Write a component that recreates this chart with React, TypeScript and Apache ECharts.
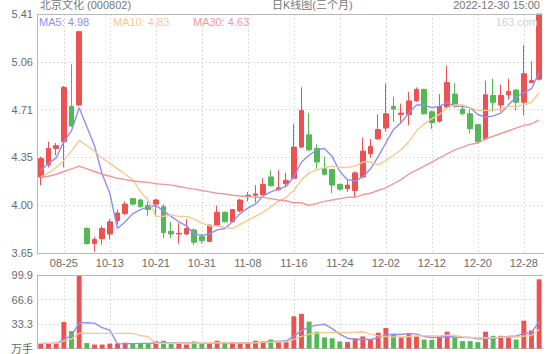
import React, { useEffect, useRef } from "react";
import * as echarts from "echarts";

const dates = [
  "08-22", "08-23", "08-24", "08-25", "08-26", "08-29", "10-10", "10-11", "10-12", "10-13",
  "10-14", "10-17", "10-18", "10-19", "10-20", "10-21", "10-24", "10-25", "10-26", "10-27",
  "10-28", "10-31", "11-01", "11-02", "11-03", "11-04", "11-07", "11-08", "11-09", "11-10",
  "11-11", "11-14", "11-15", "11-16", "11-17", "11-18", "11-21", "11-22", "11-23", "11-24",
  "11-25", "11-28", "11-29", "11-30", "12-01", "12-02", "12-05", "12-06", "12-07", "12-08",
  "12-09", "12-12", "12-13", "12-14", "12-15", "12-16", "12-19", "12-20", "12-21", "12-22",
  "12-23", "12-26", "12-27", "12-28", "12-29", "12-30",
];

const opens = [
  4.21, 4.30, 4.42, 4.47, 4.73, 4.74, 3.83, 3.72, 3.755, 3.79,
  3.89, 3.94, 4.05, 4.04, 4.00, 4.01, 3.99, 3.81, 3.79, 3.79,
  3.82, 3.77, 3.735, 3.855, 3.95, 3.88, 3.96, 4.065, 4.075, 4.08,
  4.21, 4.115, 4.16, 4.20, 4.43, 4.52, 4.42, 4.27, 4.265, 4.155,
  4.125, 4.11, 4.21, 4.38, 4.49, 4.57, 4.73, 4.67, 4.67, 4.77,
  4.855, 4.69, 4.62, 4.725, 4.82, 4.71, 4.675, 4.595, 4.49, 4.81,
  4.74, 4.815, 4.85, 4.76, 4.905, 4.93,
];
const closes = [
  4.345, 4.42, 4.44, 4.87, 4.585, 5.28, 3.72, 3.75, 3.83, 3.88,
  3.945, 4.01, 4.01, 3.99, 3.97, 4.04, 3.80, 3.79, 3.795, 3.83,
  3.73, 3.74, 3.855, 3.95, 3.88, 3.97, 4.04, 4.075, 4.085, 4.155,
  4.145, 4.13, 4.185, 4.43, 4.70, 4.41, 4.32, 4.23, 4.15, 4.12,
  4.15, 4.24, 4.40, 4.435, 4.56, 4.675, 4.71, 4.68, 4.77, 4.855,
  4.675, 4.61, 4.73, 4.905, 4.74, 4.675, 4.565, 4.47, 4.815, 4.76,
  4.81, 4.84, 4.76, 4.97, 4.92, 5.41,
];
const lows = [
  4.15, 4.28, 4.37, 4.28, 4.58, 4.73, 3.71, 3.66, 3.71, 3.75,
  3.86, 3.93, 4.00, 3.985, 3.92, 3.92, 3.76, 3.76, 3.72, 3.78,
  3.71, 3.72, 3.73, 3.85, 3.875, 3.875, 3.95, 4.03, 4.02, 4.075,
  4.14, 4.11, 4.14, 4.195, 4.42, 4.40, 4.27, 4.22, 4.09, 4.11,
  4.10, 4.06, 4.205, 4.35, 4.485, 4.545, 4.615, 4.61, 4.59, 4.765,
  4.67, 4.565, 4.61, 4.71, 4.72, 4.665, 4.53, 4.465, 4.48, 4.69,
  4.69, 4.78, 4.70, 4.665, 4.90, 4.92,
];
const highs = [
  4.36, 4.47, 4.46, 4.88, 5.04, 5.28, 3.84, 3.77, 3.85, 3.90,
  3.97, 4.03, 4.055, 4.05, 4.03, 4.05, 4.01, 3.88, 3.87, 3.90,
  3.83, 3.79, 3.86, 4.00, 3.955, 3.975, 4.05, 4.10, 4.15, 4.20,
  4.26, 4.26, 4.24, 4.60, 4.87, 4.68, 4.45, 4.36, 4.27, 4.16,
  4.19, 4.25, 4.50, 4.49, 4.67, 4.90, 4.80, 4.75, 4.835, 4.87,
  4.86, 4.70, 4.82, 5.03, 4.90, 4.74, 4.71, 4.60, 4.92, 4.935,
  4.89, 4.935, 4.855, 5.18, 5.06, 5.41,
];

const ma5 = [
  4.26, 4.31, 4.35, 4.47, 4.55, 4.72, 4.58, 4.44, 4.23, 4.09,
  3.83, 3.88, 3.94, 3.97, 3.99, 4.00, 3.96, 3.92, 3.88, 3.85,
  3.79, 3.78, 3.79, 3.82, 3.83, 3.88, 3.94, 3.98, 4.01, 4.07,
  4.10, 4.12, 4.14, 4.21, 4.32, 4.37, 4.41, 4.42, 4.36, 4.25,
  4.19, 4.18, 4.21, 4.27, 4.36, 4.46, 4.56, 4.61, 4.68, 4.74,
  4.74, 4.72, 4.73, 4.76, 4.73, 4.73, 4.72, 4.67, 4.65, 4.66,
  4.68, 4.74, 4.80, 4.83, 4.86, 4.98,
];
const ma10 = [
  4.21, 4.24, 4.28, 4.33, 4.40, 4.48, 4.44, 4.40, 4.35, 4.31,
  4.27, 4.23, 4.19, 4.10, 4.04, 3.92, 3.92, 3.93, 3.92, 3.92,
  3.90, 3.87, 3.85, 3.85, 3.84, 3.83, 3.86, 3.89, 3.92, 3.95,
  3.99, 4.03, 4.06, 4.11, 4.19, 4.24, 4.26, 4.28, 4.29, 4.28,
  4.28, 4.29, 4.32, 4.32, 4.30, 4.33, 4.37, 4.41, 4.47, 4.55,
  4.60, 4.64, 4.67, 4.72, 4.74, 4.74, 4.72, 4.70, 4.70, 4.70,
  4.71, 4.73, 4.73, 4.74, 4.76, 4.83,
];
const ma30 = [
  4.21, 4.215, 4.23, 4.25, 4.27, 4.29, 4.27, 4.25, 4.23, 4.215,
  4.20, 4.19, 4.18, 4.175, 4.17, 4.16, 4.155, 4.15, 4.14, 4.13,
  4.12, 4.11, 4.10, 4.09, 4.085, 4.075, 4.07, 4.065, 4.06, 4.06,
  4.05, 4.04, 4.035, 4.02, 4.02, 4.00, 4.015, 4.03, 4.04, 4.05,
  4.06, 4.06, 4.08, 4.09, 4.11, 4.13, 4.16, 4.19, 4.23, 4.26,
  4.29, 4.32, 4.35, 4.38, 4.41, 4.43, 4.45, 4.46, 4.49, 4.51,
  4.53, 4.55, 4.57, 4.59, 4.60, 4.63,
];

const volumes = [
  6.6, 6.6, 7.9, 36, 23.7, 99.9, 7.4, 5.4, 5.4, 6.6,
  6.6, 7.9, 6.6, 6.6, 6.6, 9.6, 10.5, 6.6, 6.6, 5.4,
  9.6, 6.6, 6.6, 10.5, 7.4, 7.4, 7.4, 7.4, 10.5, 9.6,
  12.2, 9.6, 8.7, 43.8, 47, 36.5, 22.8, 15.1, 13.9, 9.6,
  8.7, 13.9, 16.4, 12.2, 21.5, 27.9, 19, 15.1, 19.4, 16.4,
  12.2, 11.8, 16.4, 22.8, 15.1, 10, 10, 8.7, 22.8, 17.3,
  17.3, 16.4, 12.2, 37.8, 24.6, 94,
];
const volMa5 = [
  7, 7, 7, 12, 18, 34.8, 35.0, 34.5, 28.4, 24.9,
  6.3, 6.4, 6.6, 6.9, 6.9, 7.5, 8.0, 8.0, 8.0, 7.7,
  7.7, 7.0, 7.0, 7.7, 8.1, 7.7, 7.9, 8.0, 8.0, 8.5,
  9.4, 9.9, 10.1, 16.8, 24.3, 29.1, 31.8, 33.0, 27.1, 19.6,
  14.0, 12.2, 12.5, 12.2, 14.5, 18.4, 19.4, 19.1, 20.6, 19.6,
  16.4, 15.0, 15.2, 15.9, 15.7, 15.2, 14.9, 13.3, 13.3, 13.8,
  15.2, 16.5, 17.2, 20.2, 21.7, 37.0,
];
const volMa10 = [
  7, 7, 7, 10, 13, 20.7, 20.6, 20.6, 20.6, 20.6,
  20.6, 20.7, 20.6, 17.6, 15.9, 6.9, 7.2, 7.3, 7.4, 7.3,
  7.6, 7.5, 7.5, 7.9, 7.9, 7.7, 7.4, 7.5, 7.9, 8.3,
  8.6, 8.9, 9.1, 12.4, 16.4, 19.3, 20.8, 21.6, 21.9, 21.9,
  21.6, 22.0, 22.8, 19.6, 17.1, 16.2, 15.8, 15.8, 16.4, 17.1,
  17.4, 17.2, 17.2, 18.3, 17.6, 15.8, 14.9, 14.3, 14.6, 14.7,
  15.2, 15.7, 15.3, 16.8, 17.7, 26.1,
];

const priceMin = 3.65;
const priceMax = 5.41;
const priceStep = 0.352;
const volMax = 99.9;
const volStep = 33.3;

const RED = "#ec5252";
const GREEN = "#54b854";
const C_MA5 = "#8f8ff2";
const C_MA10 = "#f8c893";
const C_MA30 = "#f19898";
const GRID_LINE = "#dcdcdc";
const AXIS_LINE = "#b8b8b8";
const LABEL = "#6a6a6a";
const FONT = "'Liberation Sans', Arial, 'Noto Sans CJK SC', sans-serif";

const labelEvery = (i: number) => i >= 3 && (i - 3) % 6 === 0;

export default function App() {
  const ref = useRef<HTMLDivElement>(null);
  useEffect(() => {
    if (!ref.current) return;
    const chart = echarts.init(ref.current, undefined, { renderer: "svg" });
    const candles = dates.map((_, i) => [opens[i], closes[i], lows[i], highs[i]]);
    const volData = volumes.map((v, i) => ({
      value: v,
      itemStyle: { color: closes[i] >= opens[i] ? RED : GREEN },
    }));
    const last = (a: number[]) => a[a.length - 1].toFixed(2);
    const L = 37;
    const R = 543;
    const option: any = {
      animation: false,
      textStyle: { fontFamily: FONT },
      grid: [
        { left: L, right: 560 - R, top: 14, height: 239 },
        { left: L, right: 560 - R, top: 275, height: 79 },
      ],
      xAxis: [
        {
          type: "category",
          gridIndex: 0,
          data: dates,
          boundaryGap: true,
          axisLine: { lineStyle: { color: AXIS_LINE } },
          axisTick: { show: false },
          axisLabel: {
            interval: (i: number) => labelEvery(i),
            color: LABEL,
            fontSize: 11,
            margin: 4,
            fontFamily: FONT,
          },
          splitLine: {
            show: true,
            interval: (i: number) => labelEvery(i),
            alignWithLabel: true,
            lineStyle: { color: GRID_LINE, type: [2, 2] },
          },
        },
        {
          type: "category",
          gridIndex: 1,
          data: dates,
          boundaryGap: true,
          axisLine: { lineStyle: { color: AXIS_LINE } },
          axisTick: { show: false },
          axisLabel: { show: false },
          splitLine: {
            show: true,
            interval: (i: number) => labelEvery(i),
            alignWithLabel: true,
            lineStyle: { color: GRID_LINE, type: [2, 2] },
          },
        },
      ],
      yAxis: [
        {
          type: "value",
          gridIndex: 0,
          min: priceMin,
          max: priceMax,
          interval: priceStep,
          axisLine: { show: true, lineStyle: { color: AXIS_LINE } },
          axisTick: { show: false },
          axisLabel: {
            color: LABEL,
            fontSize: 11,
            margin: 4,
            fontFamily: FONT,
            formatter: (v: number) => v.toFixed(2),
          },
          splitLine: { show: true, lineStyle: { color: GRID_LINE, type: [2, 2] } },
        },
        {
          type: "value",
          gridIndex: 1,
          min: 0,
          max: volMax,
          interval: volStep,
          axisLine: { show: true, lineStyle: { color: AXIS_LINE } },
          axisTick: { show: false },
          axisLabel: {
            color: LABEL,
            fontSize: 11,
            margin: 4,
            fontFamily: FONT,
            formatter: (v: number) => (v === 0 ? "万手" : v.toFixed(1)),
          },
          splitLine: { show: true, lineStyle: { color: GRID_LINE, type: [2, 2] } },
        },
      ],
      series: [
        {
          type: "candlestick",
          xAxisIndex: 0,
          yAxisIndex: 0,
          data: candles,
          barWidth: "64%",
          itemStyle: {
            color: RED,
            color0: GREEN,
            borderColor: RED,
            borderColor0: GREEN,
            borderWidth: 1,
          },
        },
        {
          type: "line", xAxisIndex: 0, yAxisIndex: 0, data: ma5, showSymbol: false,
          lineStyle: { color: C_MA5, width: 1.4 }, itemStyle: { color: C_MA5 },
        },
        {
          type: "line", xAxisIndex: 0, yAxisIndex: 0, data: ma10, showSymbol: false,
          lineStyle: { color: C_MA10, width: 1.4 }, itemStyle: { color: C_MA10 },
        },
        {
          type: "line", xAxisIndex: 0, yAxisIndex: 0, data: ma30, showSymbol: false,
          lineStyle: { color: C_MA30, width: 1.4 }, itemStyle: { color: C_MA30 },
        },
        {
          type: "bar", xAxisIndex: 1, yAxisIndex: 1, data: volData, barWidth: "64%",
        },
        {
          type: "line", xAxisIndex: 1, yAxisIndex: 1, data: volMa5, showSymbol: false,
          lineStyle: { color: C_MA5, width: 1.4 }, itemStyle: { color: C_MA5 },
        },
        {
          type: "line", xAxisIndex: 1, yAxisIndex: 1, data: volMa10, showSymbol: false,
          lineStyle: { color: C_MA10, width: 1.4 }, itemStyle: { color: C_MA10 },
        },
      ],
      graphic: [
        { type: "line", z: 10, shape: { x1: L, y1: 14.5, x2: R, y2: 14.5 }, style: { stroke: AXIS_LINE, lineWidth: 1 } },
        { type: "line", z: 10, shape: { x1: L, y1: 275.5, x2: R, y2: 275.5 }, style: { stroke: AXIS_LINE, lineWidth: 1 } },
        {
          type: "text", x: 40, y: 4.5, z: 10,
          style: { text: "北京文化 (000802)", fill: "#777", fontSize: 11, fontFamily: FONT, textVerticalAlign: "middle" },
        },
        {
          type: "text", x: 272, y: 4.5, z: 10,
          style: { text: "日K线图(三个月)", fill: "#777", fontSize: 11, fontFamily: FONT, textVerticalAlign: "middle" },
        },
        {
          type: "text", x: 540, y: 4.5, z: 10,
          style: { text: "2022-12-30 15:00", fill: "#777", fontSize: 11, fontFamily: FONT, textAlign: "right", textVerticalAlign: "middle" },
        },
        {
          type: "text", x: 39, y: 21.5, z: 10,
          style: { text: "MA5: " + last(ma5), fill: C_MA5, fontSize: 11, fontFamily: FONT, textVerticalAlign: "middle" },
        },
        {
          type: "text", x: 113, y: 21.5, z: 10,
          style: { text: "MA10: " + last(ma10), fill: C_MA10, fontSize: 11, fontFamily: FONT, textVerticalAlign: "middle" },
        },
        {
          type: "text", x: 193, y: 21.5, z: 10,
          style: { text: "MA30: " + last(ma30), fill: C_MA30, fontSize: 11, fontFamily: FONT, textVerticalAlign: "middle" },
        },
        {
          type: "text", x: 538, y: 22, z: 10,
          style: { text: "163.com", fill: "#d0d0d0", fontSize: 11, fontFamily: FONT, textAlign: "right", textVerticalAlign: "middle" },
        },
      ],
    };
    chart.setOption(option);
    return () => chart.dispose();
  }, []);
  return (
    <div
      ref={ref}
      style={{ position: "absolute", left: 0, top: 0, width: 560, height: 354 }}
    />
  );
}
